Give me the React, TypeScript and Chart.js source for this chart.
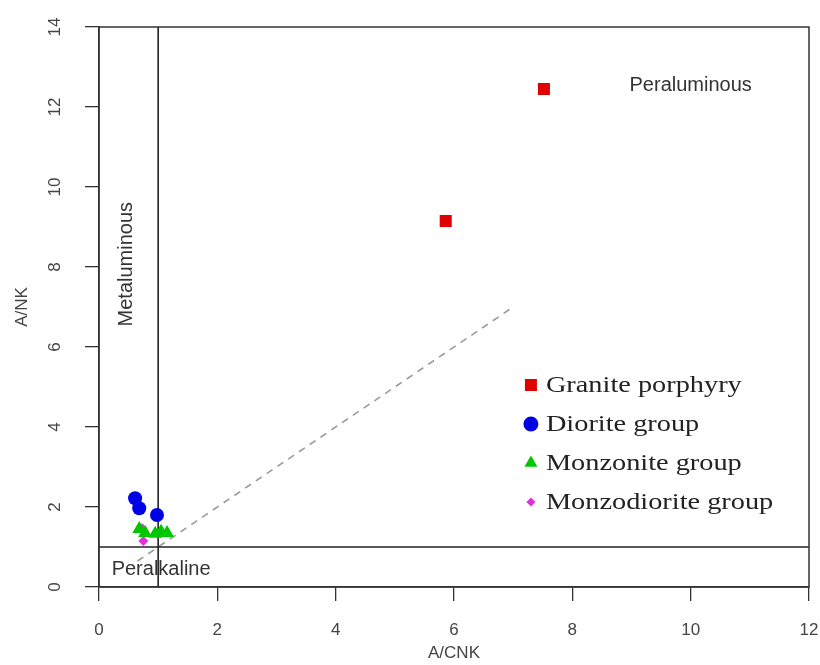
import React, { useEffect, useRef } from 'react';
import { Chart, registerables } from 'chart.js';

Chart.register(...registerables);

// ---- data ----
const xTickValues = [0, 2, 4, 6, 8, 10, 12];
const yTickValues = [0, 2, 4, 6, 8, 10, 12, 14];

const seriesNames = ['Granite porphyry', 'Diorite group', 'Monzonite group', 'Monzodiorite group'];

const graniteX = [5.86, 7.52];
const graniteY = [9.15, 12.45];

const dioriteX = [0.61, 0.68, 0.98];
const dioriteY = [2.22, 1.97, 1.8];

const monzoniteX = [0.68, 0.78, 0.95, 1.05, 1.15];
const monzoniteY = [1.45, 1.35, 1.33, 1.38, 1.35];

const monzodioriteX = [0.73, 0.75];
const monzodioriteY = [1.47, 1.15];

const horizX = [0, 12];
const horizY = [1, 1];
const vertX = [1, 1];
const vertY = [0, 14];
const dashX = [0.65, 7];
const dashY = [0.65, 7];

const annotations = [
  { text: 'Peraluminous', x: 10.0, y: 12.55, rot: 0 },
  { text: 'Metaluminous', x: 0.47, y: 8.07, rot: -90 },
  { text: 'Peralkaline', x: 1.05, y: 0.45, rot: 0 },
];

const zip = (xs: number[], ys: number[]) => xs.map((x, i) => ({ x, y: ys[i] }));

function drawMarker(ctx: CanvasRenderingContext2D, style: string, x: number, y: number, r: number, color: string) {
  ctx.save();
  ctx.fillStyle = color;
  ctx.beginPath();
  if (style === 'rect') {
    const s = r * Math.SQRT1_2;
    ctx.rect(x - s, y - s, 2 * s, 2 * s);
  } else if (style === 'circle') {
    ctx.arc(x, y, r, 0, Math.PI * 2);
  } else if (style === 'triangle') {
    ctx.moveTo(x, y - r);
    ctx.lineTo(x + r * Math.sin((2 * Math.PI) / 3), y - r * Math.cos((2 * Math.PI) / 3));
    ctx.lineTo(x + r * Math.sin((4 * Math.PI) / 3), y - r * Math.cos((4 * Math.PI) / 3));
    ctx.closePath();
  } else {
    ctx.moveTo(x, y - r);
    ctx.lineTo(x + r, y);
    ctx.lineTo(x, y + r);
    ctx.lineTo(x - r, y);
    ctx.closePath();
  }
  ctx.fill();
  ctx.restore();
}

const decorPlugin = {
  id: 'decor',
  afterDatasetsDraw(chart: any) {
    const { ctx, chartArea, scales } = chart;
    const xs = scales.x;
    const ys = scales.y;
    // box
    ctx.save();
    ctx.strokeStyle = '#333';
    ctx.lineWidth = 1.5;
    ctx.strokeRect(chartArea.left, chartArea.top, chartArea.right - chartArea.left, chartArea.bottom - chartArea.top);
    ctx.restore();

    // region annotations
    ctx.save();
    ctx.fillStyle = '#333';
    ctx.font = '20px "Liberation Sans", Arial, sans-serif';
    ctx.textAlign = 'center';
    ctx.textBaseline = 'middle';
    annotations.forEach((a) => {
      const px = xs.getPixelForValue(a.x);
      const py = ys.getPixelForValue(a.y);
      ctx.save();
      ctx.translate(px, py);
      ctx.rotate((a.rot * Math.PI) / 180);
      ctx.fillText(a.text, 0, 0);
      ctx.restore();
    });
    ctx.restore();

    // legend
    const legendX = xs.getPixelForValue(7.3);
    const legendY0 = ys.getPixelForValue(5.05);
    const rowH = 39;
    ctx.save();
    ctx.font = '24px "Liberation Serif", "Times New Roman", serif';
    ctx.fillStyle = '#222';
    ctx.textBaseline = 'middle';
    ctx.textAlign = 'left';
    for (let i = 0; i < seriesNames.length; i++) {
      const ds = chart.data.datasets[i];
      const y = legendY0 + i * rowH;
      const lr = ds.pointStyle === 'rectRot' ? 4.5 : ds.pointStyle === 'rect' ? 8.5 : 7.5;
      drawMarker(ctx, ds.pointStyle, legendX, y, lr, ds.backgroundColor);
      ctx.save();
      ctx.translate(legendX + 15, y);
      ctx.scale(1.18, 1);
      ctx.fillText(ds.label, 0, 1);
      ctx.restore();
    }
    ctx.restore();
  },
};

export default function App() {
  const ref = useRef<HTMLCanvasElement | null>(null);

  useEffect(() => {
    if (!ref.current) return;
    const tickFont = { family: '"Liberation Sans", Arial, sans-serif', size: 17 };
    const chart = new Chart(ref.current, {
      type: 'scatter',
      data: {
        datasets: [
          {
            label: seriesNames[0],
            data: zip(graniteX, graniteY),
            pointStyle: 'rect',
            radius: 8.5,
            backgroundColor: '#e00000',
            borderColor: '#e00000',
            borderWidth: 0,
          },
          {
            label: seriesNames[1],
            data: zip(dioriteX, dioriteY),
            pointStyle: 'circle',
            radius: 7,
            backgroundColor: '#0000e6',
            borderColor: '#0000e6',
            borderWidth: 0,
          },
          {
            label: seriesNames[2],
            data: zip(monzoniteX, monzoniteY),
            pointStyle: 'triangle',
            radius: 8,
            backgroundColor: '#00c800',
            borderColor: '#00c800',
            borderWidth: 0,
          },
          {
            label: seriesNames[3],
            data: zip(monzodioriteX, monzodioriteY),
            pointStyle: 'rectRot',
            radius: 5,
            backgroundColor: '#e030e0',
            borderColor: '#e030e0',
            borderWidth: 0,
          },
          {
            label: 'horiz',
            data: zip(horizX, horizY),
            showLine: true,
            borderColor: '#222',
            borderWidth: 1.6,
            pointRadius: 0,
          },
          {
            label: 'vert',
            data: zip(vertX, vertY),
            showLine: true,
            borderColor: '#222',
            borderWidth: 1.6,
            pointRadius: 0,
          },
          {
            label: 'dash',
            data: zip(dashX, dashY),
            showLine: true,
            borderColor: '#9a9a9a',
            borderWidth: 1.6,
            borderDash: [7, 6],
            pointRadius: 0,
          },
        ],
      },
      options: {
        animation: false,
        responsive: true,
        maintainAspectRatio: false,
        layout: { padding: { top: 27, right: 11, left: 0, bottom: 0 } },
        plugins: {
          legend: { display: false },
          tooltip: { enabled: false },
        },
        scales: {
          x: {
            type: 'linear',
            min: 0,
            max: 12,
            afterBuildTicks: (s: any) => {
              s.ticks = xTickValues.map((v) => ({ value: v }));
            },
            afterFit: (s: any) => {
              s.height = 78;
              s.paddingLeft = 0;
              s.paddingRight = 0;
            },
            grid: { drawOnChartArea: false, drawTicks: true, tickLength: 14, color: '#333', lineWidth: 1.3 },
            border: { display: true, color: '#333', width: 1.5 },
            ticks: { color: '#444', font: tickFont, padding: 19, maxRotation: 0, autoSkip: false },
            title: {
              display: true,
              text: 'A/CNK',
              color: '#444',
              font: tickFont,
              padding: { top: 0, bottom: 1 },
            },
          },
          y: {
            type: 'linear',
            min: 0,
            max: 14,
            afterBuildTicks: (s: any) => {
              s.ticks = yTickValues.map((v) => ({ value: v }));
            },
            afterFit: (s: any) => {
              s.width = 99;
              s.paddingTop = 0;
              s.paddingBottom = 0;
            },
            grid: { drawOnChartArea: false, drawTicks: true, tickLength: 14, color: '#333', lineWidth: 1.3 },
            border: { display: true, color: '#333', width: 1.5 },
            ticks: {
              color: '#444',
              font: tickFont,
              padding: 20,
              minRotation: 90,
              maxRotation: 90,
              crossAlign: 'center',
              autoSkip: false,
            },
            title: {
              display: true,
              text: 'A/NK',
              color: '#444',
              font: tickFont,
              padding: { top: 12, bottom: 0 },
            },
          },
        },
      },
      plugins: [decorPlugin],
    } as any);
    return () => chart.destroy();
  }, []);

  return (
    <div style={{ position: 'absolute', left: 0, top: 0, width: 820, height: 665, background: '#fff' }}>
      <canvas ref={ref} />
    </div>
  );
}
